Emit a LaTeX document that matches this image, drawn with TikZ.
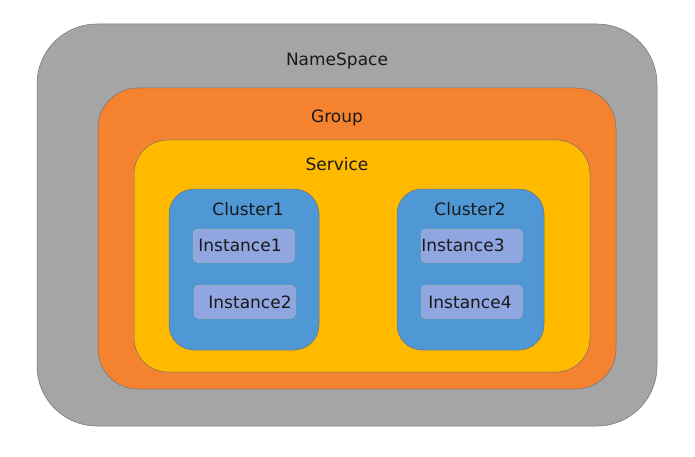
\documentclass[tikz,border=0pt]{standalone}
\usepackage{fontspec}
\setmainfont{DejaVu Sans}
\begin{document}
\begin{tikzpicture}[x=1pt,y=-1pt,
  box/.style={draw=black!55, line width=0.5pt},
  lbl/.style={font=\fontsize{17}{19}\selectfont, text=black!90, inner sep=0pt},
  inst/.style={box, draw=black!30, fill=instc, rounded corners=4pt, minimum width=101pt, minimum height=33pt, anchor=north west, inner sep=0pt},
]
\definecolor{nsc}{HTML}{A5A5A5}
\definecolor{grc}{HTML}{F5822E}
\definecolor{svc}{HTML}{FFBA00}
\definecolor{clc}{HTML}{5097D6}
\definecolor{instc}{HTML}{90A6E0}
\useasboundingbox (0,0) rectangle (695,457);
\draw[box, fill=nsc, rounded corners=60pt] (37,24) rectangle (657,426);
\draw[box, fill=grc, rounded corners=40pt] (98,88) rectangle (616,389);
\draw[box, fill=svc, rounded corners=34pt] (134,140) rectangle (590,372);
\draw[box, fill=clc, rounded corners=25pt] (169,189) rectangle (319,350);
\draw[box, fill=clc, rounded corners=25pt] (397,189) rectangle (544,350);
\node[lbl] (ns) at (337,61) {NameSpace};
\node[lbl] (gr) at (337,118) {Group};
\node[lbl] (sv) at (337,164) {Service};
\node[lbl] (c1) at (248,209) {Cluster1};
\node[lbl] (c2) at (470,209) {Cluster2};
\node[inst] (i1) at (193,229) {};
\node[inst] (i2) at (194,285) {};
\node[inst] (i3) at (421,229) {};
\node[inst] (i4) at (421,285) {};
\node[lbl] at (240,245) {Instance1};
\node[lbl] at (250,302) {Instance2};
\node[lbl] at (463,245) {Instance3};
\node[lbl] at (470,302) {Instance4};
\end{tikzpicture}
\end{document}
